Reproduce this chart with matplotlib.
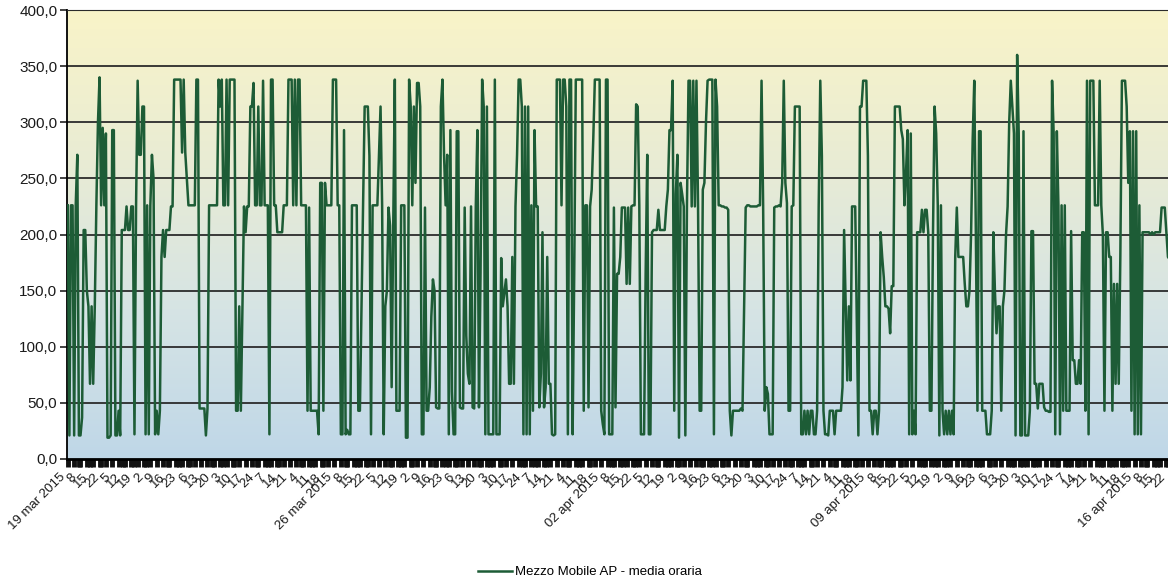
import numpy as np
import matplotlib
matplotlib.use('Agg')
import matplotlib.pyplot as plt
import matplotlib.transforms as mtransforms
from matplotlib.colors import LinearSegmentedColormap

# Medie orarie, una lista per settimana (dal 19 mar 2015)
week1 = [
    226, 21, 226, 226, 21, 226, 271, 21, 21, 37,
    204, 204, 150, 136, 67, 136, 67, 136, 226, 300,
    340, 226, 295, 226, 290, 19, 19, 21, 293, 293,
    21, 21, 43, 21, 204, 204, 204, 225, 204, 204,
    225, 225, 22, 225, 337, 271, 271, 314, 314, 22,
    226, 22, 226, 271, 250, 22, 43, 22, 43, 180,
    204, 180, 204, 204, 204, 225, 225, 338, 338, 338,
    338, 338, 273, 338, 273, 250, 226, 226, 226, 226,
    226, 338, 338, 45, 45, 45, 45, 21, 45, 226,
    226, 226, 226, 226, 226, 338, 314, 338, 226, 226,
    338, 226, 338, 338, 338, 338, 43, 43, 136, 43,
    136, 225, 202, 225, 225, 314, 314, 335, 226, 226,
    314, 226, 226, 337, 226, 226, 226, 22, 338, 338,
    226, 226, 202, 202, 202, 202, 226, 226, 226, 338,
    338, 338, 226, 338, 226, 338, 338, 226, 226, 226,
    226, 43, 224, 43, 43, 43, 43, 43, 22, 246,
    246, 43, 246, 226, 226, 226, 226, 338,
]
week2 = [
    338, 338,
    226, 226, 22, 22, 293, 22, 26, 22, 22, 226,
    226, 226, 226, 43, 43, 136, 226, 314, 314, 314,
    270, 22, 226, 226, 226, 226, 270, 314, 226, 22,
    136, 150, 224, 208, 64, 208, 338, 43, 43, 43,
    226, 226, 226, 19, 19, 338, 314, 226, 314, 246,
    335, 335, 314, 22, 22, 224, 43, 43, 64, 127,
    160, 150, 46, 45, 45, 314, 338, 271, 226, 271,
    22, 293, 60, 22, 22, 292, 292, 46, 45, 45,
    224, 110, 76, 67, 225, 46, 45, 225, 293, 46,
    166, 338, 314, 22, 314, 22, 22, 22, 22, 338,
    22, 22, 22, 179, 136, 148, 160, 136, 67, 67,
    180, 67, 225, 271, 338, 338, 314, 22, 314, 22,
    314, 22, 226, 43, 293, 225, 225, 46, 76, 202,
    46, 64, 180, 67, 67, 22, 21, 22, 338, 338,
    338, 226, 338, 338, 314, 22, 338, 338, 22, 165,
    338, 338, 338, 338, 338, 43, 226, 226, 46, 225,
    240, 285, 338, 338, 338, 338,
]
week3 = [
    43, 31, 22, 338,
    338, 22, 22, 22, 224, 46, 165, 165, 180, 224,
    224, 224, 156, 224, 156, 225, 226, 226, 316, 314,
    226, 22, 22, 22, 165, 271, 22, 22, 202, 204,
    204, 204, 222, 204, 204, 204, 204, 225, 240, 293,
    293, 337, 43, 236, 271, 19, 246, 236, 225, 21,
    225, 337, 337, 225, 337, 225, 337, 225, 43, 43,
    240, 246, 300, 337, 338, 338, 338, 22, 338, 314,
    226, 226, 225, 225, 224, 224, 222, 43, 21, 43,
    43, 43, 43, 43, 45, 43, 136, 224, 226, 226,
    225, 225, 225, 225, 225, 226, 226, 337, 226, 43,
    64, 58, 22, 22, 22, 224, 225, 225, 226, 225,
    246, 337, 246, 228, 43, 43, 225, 226, 314, 314,
    314, 314, 22, 22, 43, 22, 43, 22, 43, 43,
    22, 22, 43, 225, 337, 270, 43, 22, 22, 21,
    43, 43, 43, 22, 43, 43, 43, 43, 64, 204,
    136, 70, 136, 70, 225, 225, 225, 121, 21, 314,
    314, 337, 337, 337,
]
week4 = [
    270, 43, 43, 22, 43, 43,
    22, 43, 202, 180, 162, 136, 136, 134, 112, 154,
    154, 314, 314, 314, 314, 293, 285, 226, 255, 293,
    22, 290, 22, 43, 22, 202, 202, 202, 222, 202,
    222, 222, 202, 43, 43, 202, 314, 290, 226, 21,
    226, 43, 22, 43, 22, 43, 22, 43, 22, 180,
    224, 180, 180, 180, 180, 156, 136, 136, 150, 202,
    285, 337, 200, 43, 292, 292, 43, 43, 43, 22,
    22, 22, 43, 202, 150, 112, 136, 136, 43, 136,
    150, 200, 225, 300, 337, 314, 290, 21, 360, 290,
    21, 21, 292, 21, 21, 21, 43, 203, 203, 67,
    67, 45, 67, 67, 67, 46, 43, 43, 42, 42,
    337, 290, 22, 292, 226, 22, 226, 43, 226, 43,
    43, 43, 203, 88, 88, 67, 67, 88, 67, 202,
    202, 43, 337, 22, 337, 337, 337, 226, 226, 226,
    337, 226, 200, 43, 202, 202, 180, 180, 43, 156,
    67, 156, 67, 180, 337, 337, 337, 314, 246, 292,
    43, 292,
]
week5 = [
    22, 292, 22, 226, 22, 202, 202, 202,
    202, 202, 200, 202, 200, 202, 202, 202, 202, 224,
    224, 224, 202, 180, 178,
]

week_dates = ['19 mar 2015', '26 mar 2015', '02 apr 2015', '09 apr 2015', '16 apr 2015']
hour_labels = ['8', '15', '22', '5', '12', '19', '2', '9', '16', '23', '6', '13',
               '20', '3', '10', '17', '24', '7', '14', '21', '4', '11', '18']
y_ticks = [0, 50, 100, 150, 200, 250, 300, 350, 400]

values = np.array(week1 + week2 + week3 + week4 + week5, dtype=float)
n = len(values)
hours = np.arange(n)

# etichette ogni 7 ore: la data a inizio settimana, poi l'ora
tick_labels = []
for d in week_dates:
    tick_labels.append(d)
    tick_labels.extend(hour_labels)
tick_pos = np.arange(0, n, 7)
tick_labels = tick_labels[:len(tick_pos)]

plt.rcParams['font.family'] = ['Liberation Sans', 'DejaVu Sans']

fig = plt.figure(figsize=(11.68, 5.84), dpi=100)
ax = fig.add_axes([67 / 1168, 1 - 459 / 584, 1 - 67 / 1168 + 0.002, 449 / 584])

x0, x1 = -0.5, n - 0.5

# sfondo sfumato giallo -> azzurro
cmap = LinearSegmentedColormap.from_list(
    'bg', ['#bfd7e8', '#d6e4e4', '#e9ecd4', '#f9f4c8'])
grad = np.linspace(0, 1, 256).reshape(-1, 1)
ax.imshow(grad, cmap=cmap, origin='lower', aspect='auto',
          extent=[x0, x1, 0, 400], zorder=0)

for yv in y_ticks[1:]:
    ax.axhline(yv, color='#2b2b2b', lw=1.3, zorder=1)

ax.plot(hours, values, color='#1d5c36', lw=1.8, zorder=3,
        label='Mezzo Mobile AP - media oraria')

ax.set_xlim(x0, x1)
ax.set_ylim(0, 400)
ax.set_yticks(y_ticks)
ax.set_yticklabels([f'{v:.1f}'.replace('.', ',') for v in y_ticks],
                   fontsize=11, color='#1a1a1a')
ax.tick_params(axis='y', length=5, width=1.2, color='#222222', pad=2)

ax.set_xticks(tick_pos)
ax.set_xticklabels(tick_labels, rotation=45, ha='right', va='center',
                   rotation_mode='anchor', fontsize=9.5, color='#1a1a1a')
ax.set_xticks(np.arange(0, n, 4), minor=True)
ax.tick_params(axis='x', which='both', length=6, width=3.5,
               color='#111111', pad=6)
shift = mtransforms.ScaledTranslation(-4 / 100, 0, fig.dpi_scale_trans)
for lbl in ax.get_xticklabels():
    lbl.set_transform(lbl.get_transform() + shift)

ax.spines['right'].set_visible(False)
ax.spines['top'].set_color('#2b2b2b')
ax.spines['left'].set_linewidth(1.3)
ax.spines['bottom'].set_linewidth(2.0)

fig.legend(loc='center', bbox_to_anchor=(590 / 1168, 1 - 572 / 584),
           frameon=False, fontsize=9.5, handlelength=2.6, handletextpad=0.2)

fig.savefig('out.png', dpi=100)
